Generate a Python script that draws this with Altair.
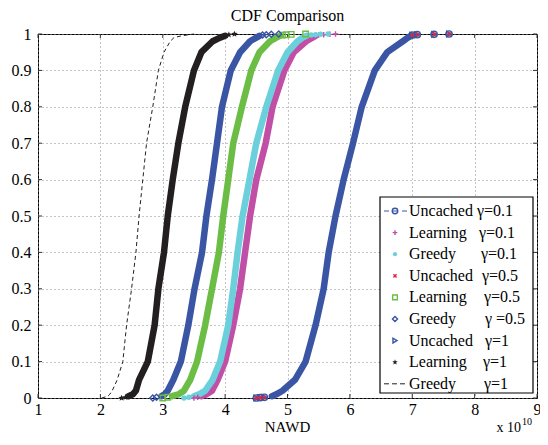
import math
import altair as alt
import pandas as pd

FONT = "Liberation Serif"

# ---------------- data ----------------
X_TICKS = [1, 2, 3, 4, 5, 6, 7, 8, 9]
Y_TICKS = [0, 0.1, 0.2, 0.3, 0.4, 0.5, 0.6, 0.7, 0.8, 0.9, 1.0]

# CDF levels of the dense (core) part of each curve
LEVELS = [0.005, 0.01, 0.02, 0.05, 0.1, 0.2, 0.3, 0.4, 0.5, 0.6, 0.7, 0.8, 0.9, 0.95, 0.98, 0.99, 0.995]

X_UNCACHED = [4.75, 4.82, 4.92, 5.12, 5.29, 5.45, 5.58, 5.66, 5.77, 5.90, 6.05, 6.19, 6.40, 6.60, 6.85, 6.93, 6.98]
X_LEARNING_01 = [3.62, 3.70, 3.79, 3.88, 4.00, 4.13, 4.24, 4.32, 4.40, 4.50, 4.65, 4.76, 4.95, 5.10, 5.30, 5.40, 5.45]
X_GREEDY_01 = [3.50, 3.58, 3.68, 3.80, 3.92, 4.05, 4.13, 4.20, 4.28, 4.39, 4.50, 4.66, 4.85, 5.00, 5.16, 5.24, 5.30]
X_LEARNING_05 = [3.15, 3.25, 3.34, 3.44, 3.55, 3.68, 3.79, 3.90, 3.97, 4.05, 4.13, 4.27, 4.42, 4.55, 4.72, 4.82, 4.88]
X_GREEDY_05 = [2.98, 3.03, 3.08, 3.17, 3.29, 3.41, 3.51, 3.63, 3.70, 3.79, 3.87, 3.95, 4.09, 4.24, 4.40, 4.50, 4.55]
X_LEARNING_1 = [2.45, 2.52, 2.57, 2.62, 2.76, 2.87, 2.93, 3.02, 3.08, 3.16, 3.25, 3.36, 3.50, 3.62, 3.80, 3.92, 4.00]

# sparse tail markers (bottom and top ends of each curve)
TAIL_UNCACHED_X = [4.50, 4.56, 4.63, 7.00, 7.08, 7.35, 7.59]
TAIL_UNCACHED_Y = [0.0, 0.001, 0.002, 0.997, 0.998, 0.999, 1.0]
TAIL_LEARNING_01_X = [3.50, 3.56, 5.50, 5.58, 5.68, 5.77]
TAIL_LEARNING_01_Y = [0.0, 0.002, 0.997, 0.998, 0.999, 1.0]
TAIL_GREEDY_01_X = [3.34, 3.42, 5.38, 5.45, 5.53, 5.65]
TAIL_GREEDY_01_Y = [0.0, 0.002, 0.997, 0.998, 0.999, 1.0]
TAIL_LEARNING_05_X = [3.00, 3.08, 4.92, 4.98, 5.06, 5.29]
TAIL_LEARNING_05_Y = [0.0, 0.002, 0.997, 0.998, 0.999, 1.0]
TAIL_GREEDY_05_X = [2.84, 2.90, 4.60, 4.66, 4.74, 4.86]
TAIL_GREEDY_05_Y = [0.0, 0.002, 0.997, 0.998, 0.999, 1.0]
TAIL_LEARNING_1_X = [2.34, 2.40, 4.06, 4.15]
TAIL_LEARNING_1_Y = [0.0, 0.002, 0.998, 1.0]

# Greedy gamma=1 (thin dashed curve)
GREEDY_1_Y = [0, 0.005, 0.01, 0.02, 0.05, 0.1, 0.2, 0.3, 0.4, 0.5, 0.6, 0.7, 0.8, 0.9, 0.95, 0.98, 0.99, 0.995, 1.0]
GREEDY_1_X = [2.02, 2.12, 2.15, 2.19, 2.27, 2.36, 2.42, 2.50, 2.57, 2.62, 2.68, 2.74, 2.84, 2.93, 3.02, 3.12, 3.18, 3.30, 3.50]

LEGEND_NAMES = ["Uncached", "Learning", "Greedy", "Uncached", "Learning", "Greedy", "Uncached", "Learning", "Greedy"]
LEGEND_GAMMAS = ["γ=0.1", "γ=0.1", "γ=0.1", "γ=0.5", "γ=0.5", "γ =0.5", "γ=1", "γ=1", "γ=1"]

# ---------------- styles ----------------
BLUE = "#3a55a4"
MAGENTA = "#c24fa6"
CYAN = "#6ccfdc"
RED = "#e3263a"
GREEN = "#6bbd45"
BLACK = "#231f20"

CROSS = "M-1,0H1M0,-1V1"
XSHAPE = "M-1,-1L1,1M-1,1L1,-1"
_pts = []
for k in range(10):
    r = 1.0 if k % 2 == 0 else 0.42
    a = -math.pi / 2 + k * math.pi / 5
    _pts.append(f"{r*math.cos(a):.3f},{r*math.sin(a):.3f}")
STAR = "M" + "L".join(_pts) + "Z"

W, H = 499, 364

x_scale = alt.Scale(domain=[1, 9], nice=False, zero=False)
y_scale = alt.Scale(domain=[0, 1], nice=False, zero=False)

x_axis = alt.Axis(values=X_TICKS, format="d", title=None, grid=True, gridDash=[1, 3],
                  gridColor="#8a8a8a", gridWidth=1, ticks=False, domain=False,
                  labelFont=FONT, labelFontSize=16, labelColor="black", labelPadding=3,
                  labelFlush=False)
y_axis = alt.Axis(values=Y_TICKS, format=".1~f", title=None, grid=True, gridDash=[1, 3],
                  gridColor="#8a8a8a", gridWidth=1, ticks=False, domain=False,
                  labelFont=FONT, labelFontSize=16, labelColor="black", labelPadding=7,
                  labelFlush=False)

X = alt.X("x:Q", scale=x_scale, axis=x_axis)
Y = alt.Y("y:Q", scale=y_scale, axis=y_axis)

one = pd.DataFrame({"_": [0]})
layers = []

# inward ticks
xt = pd.DataFrame({"x": X_TICKS})
yt = pd.DataFrame({"y": Y_TICKS})
layers.append(alt.Chart(xt).mark_rule(color="#333", strokeWidth=1).encode(x=X, y=alt.value(H), y2=alt.value(H - 4)))
layers.append(alt.Chart(xt).mark_rule(color="#333", strokeWidth=1).encode(x=X, y=alt.value(0), y2=alt.value(4)))
layers.append(alt.Chart(yt).mark_rule(color="#333", strokeWidth=1).encode(y=Y, x=alt.value(0), x2=alt.value(4)))
layers.append(alt.Chart(yt).mark_rule(color="#333", strokeWidth=1).encode(y=Y, x=alt.value(W), x2=alt.value(W - 4)))

# dense core bands
cores = [
    (X_UNCACHED, BLUE),
    (X_LEARNING_01, MAGENTA),
    (X_GREEDY_01, CYAN),
    (X_LEARNING_05, GREEN),
    (X_GREEDY_05, BLUE),
    (X_LEARNING_1, BLACK),
]
for xs, col in cores:
    df = pd.DataFrame({"x": xs, "y": LEVELS})
    layers.append(alt.Chart(df).mark_line(color=col, strokeWidth=6.5, strokeCap="round",
                                          strokeJoin="round").encode(x=X, y=Y))

# tail markers
tails = [
    (TAIL_UNCACHED_X, TAIL_UNCACHED_Y, "circle", BLUE, False, 40),
    (TAIL_LEARNING_01_X, TAIL_LEARNING_01_Y, CROSS, MAGENTA, False, 30),
    (TAIL_GREEDY_01_X, TAIL_GREEDY_01_Y, "circle", CYAN, True, 30),
    (TAIL_UNCACHED_X, TAIL_UNCACHED_Y, "triangle-right", BLUE, False, 30),
    (TAIL_UNCACHED_X, TAIL_UNCACHED_Y, XSHAPE, RED, False, 10),
    (TAIL_LEARNING_05_X, TAIL_LEARNING_05_Y, "square", GREEN, False, 30),
    (TAIL_GREEDY_05_X, TAIL_GREEDY_05_Y, "diamond", BLUE, False, 36),
    (TAIL_LEARNING_1_X, TAIL_LEARNING_1_Y, STAR, BLACK, True, 45),
]
for xs, ys, shp, col, filled, size in tails:
    df = pd.DataFrame({"x": xs, "y": ys})
    if filled:
        m = alt.Chart(df).mark_point(shape=shp, filled=True, color=col, size=size, opacity=1)
    else:
        m = alt.Chart(df).mark_point(shape=shp, filled=False, color=col, size=size,
                                     strokeWidth=1.4, opacity=1)
    layers.append(m.encode(x=X, y=Y))

# Greedy gamma=1 dashed
gdf = pd.DataFrame({"x": GREEDY_1_X, "y": GREEDY_1_Y})
layers.append(alt.Chart(gdf).mark_line(color=BLACK, strokeWidth=1, strokeDash=[4, 3]).encode(x=X, y=Y))

# ---------------- legend (layout) ----------------
LX0, LX1, LY0, LY1 = 342, 495, 163, 359
layers.append(alt.Chart(one).mark_rect(fill="white", stroke="black", strokeWidth=1.2).encode(
    x=alt.value(LX0), x2=alt.value(LX1), y=alt.value(LY0), y2=alt.value(LY1)))

row_y = [177 + i * 21.6 for i in range(9)]
gamma_off = [97, 99, 101, 102, 104, 105, 105, 103, 104]
sym_x = LX0 + 15
leg_markers = [
    ("circle", BLUE, False, 30),
    (CROSS, MAGENTA, False, 22),
    ("circle", CYAN, True, 18),
    (XSHAPE, RED, False, 10),
    ("square", GREEN, False, 22),
    ("diamond", BLUE, False, 26),
    ("triangle-right", BLUE, False, 22),
    (STAR, BLACK, True, 34),
]
# dashed symbols for rows 0 and 8
layers.append(alt.Chart(one).mark_rule(color=BLUE, strokeWidth=1, strokeDash=[5, 4]).encode(
    x=alt.value(LX0 + 4), x2=alt.value(LX0 + 28), y=alt.value(row_y[0])))
layers.append(alt.Chart(one).mark_rule(color=BLACK, strokeWidth=1, strokeDash=[5, 3]).encode(
    x=alt.value(LX0 + 4), x2=alt.value(LX0 + 28), y=alt.value(row_y[8])))
for i, (shp, col, filled, size) in enumerate(leg_markers):
    if filled:
        m = alt.Chart(one).mark_point(shape=shp, filled=True, color=col, size=size, opacity=1)
    else:
        m = alt.Chart(one).mark_point(shape=shp, filled=False, color=col, size=size,
                                      strokeWidth=1.4, opacity=1)
    layers.append(m.encode(x=alt.value(sym_x), y=alt.value(row_y[i])))
for i in range(9):
    layers.append(alt.Chart(one).mark_text(text=LEGEND_NAMES[i], font=FONT, fontSize=16, align="left",
                                           baseline="middle", color="black").encode(
        x=alt.value(LX0 + 29), y=alt.value(row_y[i])))
    layers.append(alt.Chart(one).mark_text(text=LEGEND_GAMMAS[i], font=FONT, fontSize=16, align="left",
                                           baseline="middle", color="black").encode(
        x=alt.value(LX0 + gamma_off[i]), y=alt.value(row_y[i])))

# title, axis title and exponent
layers.append(alt.Chart(one).mark_text(text="CDF Comparison", font=FONT, fontSize=16, align="center",
                                       baseline="middle", color="black").encode(
    x=alt.value(W / 2), y=alt.value(-18)))
layers.append(alt.Chart(one).mark_text(text="NAWD", font=FONT, fontSize=15, align="center",
                                       baseline="middle", color="black").encode(
    x=alt.value(W / 2), y=alt.value(H + 28.5)))
layers.append(alt.Chart(one).mark_text(text="x 10", font=FONT, fontSize=14, align="right",
                                       baseline="alphabetic", color="black").encode(
    x=alt.value(483), y=alt.value(H + 34)))
layers.append(alt.Chart(one).mark_text(text="10", font=FONT, fontSize=10, align="left",
                                       baseline="alphabetic", color="black").encode(
    x=alt.value(484), y=alt.value(H + 27)))

chart = alt.layer(*layers).properties(
    width=W, height=H,
    autosize=alt.AutoSizeParams(type="none"),
    padding={"left": 30, "top": 26, "right": 3, "bottom": 37},
    background="white",
).configure_view(stroke="black", strokeWidth=1)

chart.save("out.html", embed_options={"renderer": "svg", "actions": False})
